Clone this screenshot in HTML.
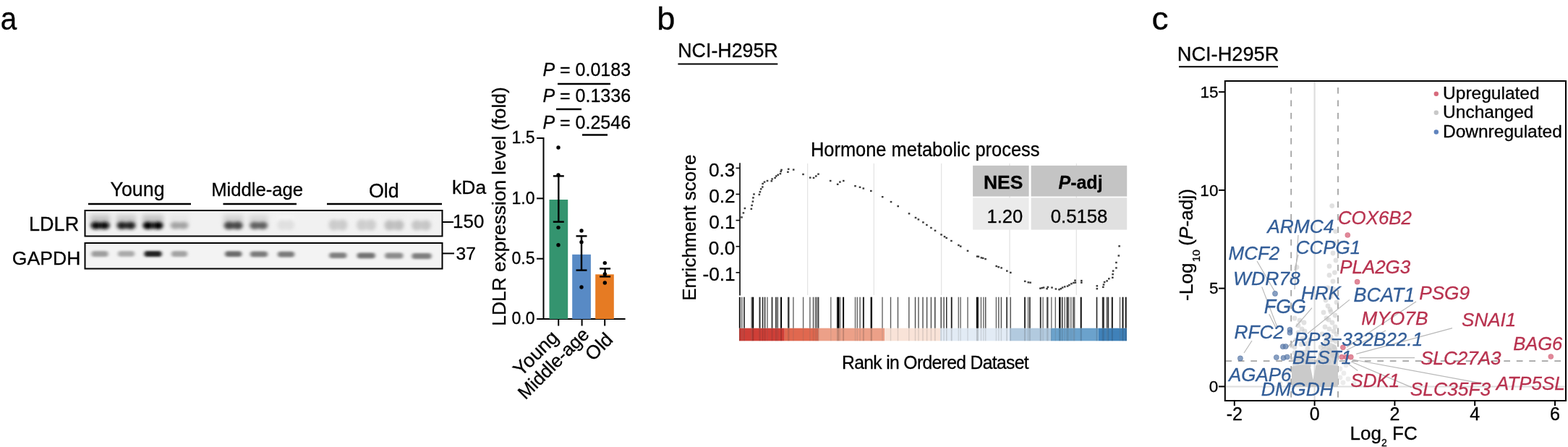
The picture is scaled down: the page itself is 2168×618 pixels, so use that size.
<!DOCTYPE html>
<html><head><meta charset="utf-8"><title>Figure</title>
<style>html,body{margin:0;padding:0;background:#fff;overflow:hidden;}svg{display:block;}</style></head>
<body><svg width="2168" height="618" viewBox="0 0 2168 618" font-family="'Liberation Sans', Arial, Helvetica, sans-serif">
<rect width="2168" height="618" fill="#fff"/>
<text transform="translate(0.68,41.20) scale(0.93,1)" font-size="43.50" fill="#000" stroke="#000" stroke-width="0.3">a</text>
<text transform="translate(152.50,270.60)" font-size="26.84" fill="#000" stroke="#000" stroke-width="0.3">Young</text>
<text transform="translate(292.18,270.60)" font-size="25.67" fill="#000" stroke="#000" stroke-width="0.3">Middle-age</text>
<text transform="translate(509.92,272.80)" font-size="26.85" fill="#000" stroke="#000" stroke-width="0.3">Old</text>
<text transform="translate(625.11,267.50)" font-size="26.45" fill="#000" stroke="#000" stroke-width="0.3">kDa</text>
<line x1="122.00" y1="282.00" x2="264.00" y2="282.00" stroke="#000" stroke-width="2.6"/>
<line x1="308.50" y1="282.00" x2="410.00" y2="282.00" stroke="#000" stroke-width="2.6"/>
<line x1="452.00" y1="282.00" x2="611.00" y2="282.00" stroke="#000" stroke-width="2.6"/>
<defs>
<filter id="bl" x="-50%" y="-100%" width="200%" height="300%"><feGaussianBlur stdDeviation="2.4 2.0"/></filter>
<filter id="bl2" x="-50%" y="-100%" width="200%" height="300%"><feGaussianBlur stdDeviation="2.0 1.5"/></filter>
<filter id="bl3" x="-50%" y="-100%" width="200%" height="300%"><feGaussianBlur stdDeviation="3 3"/></filter>
<clipPath id="cb1"><rect x="118.5" y="292" width="492" height="33.5"/></clipPath>
<clipPath id="cb2"><rect x="118.5" y="337" width="492" height="33.5"/></clipPath>
</defs>
<rect x="117.50" y="291.00" width="494.00" height="35.50" fill="#f1f1f1"/>
<rect x="117.50" y="336.00" width="494.00" height="35.50" fill="#f3f3f3"/>
<g clip-path="url(#cb1)">
<rect x="125.0" y="297" width="27" height="12" fill="rgb(187,187,187)" filter="url(#bl3)" opacity="0.8"/>
<g filter="url(#bl)"><rect x="127.0" y="307.1" width="23" height="9.5" rx="4.5" fill="rgb(52,52,52)"/><ellipse cx="132.0" cy="311.8" rx="6.5" ry="5.2" fill="rgb(7,7,7)"/><ellipse cx="145.0" cy="311.8" rx="6.5" ry="5.2" fill="rgb(7,7,7)"/></g>
<rect x="161.0" y="297" width="27" height="12" fill="rgb(194,194,194)" filter="url(#bl3)" opacity="0.8"/>
<g filter="url(#bl)"><rect x="163.0" y="307.1" width="23" height="9.5" rx="4.5" fill="rgb(75,75,75)"/><ellipse cx="168.0" cy="311.8" rx="6.5" ry="5.2" fill="rgb(35,35,35)"/><ellipse cx="181.0" cy="311.8" rx="6.5" ry="5.2" fill="rgb(35,35,35)"/></g>
<rect x="197.0" y="297" width="29" height="12" fill="rgb(186,186,186)" filter="url(#bl3)" opacity="0.8"/>
<g filter="url(#bl)"><rect x="199.0" y="307.1" width="25" height="9.5" rx="4.5" fill="rgb(50,50,50)"/><ellipse cx="204.0" cy="311.8" rx="6.5" ry="5.2" fill="rgb(5,5,5)"/><ellipse cx="219.0" cy="311.8" rx="6.5" ry="5.2" fill="rgb(5,5,5)"/></g>
<rect x="235.0" y="297" width="26" height="12" fill="rgb(229,229,229)" filter="url(#bl3)" opacity="0.8"/>
<g filter="url(#bl)"><rect x="237.0" y="307.3" width="22" height="9" rx="4.5" fill="rgb(179,179,179)"/><ellipse cx="242.0" cy="311.8" rx="6.5" ry="5.0" fill="rgb(163,163,163)"/><ellipse cx="254.0" cy="311.8" rx="6.5" ry="5.0" fill="rgb(163,163,163)"/></g>
<rect x="309.2" y="297" width="27" height="12" fill="rgb(204,204,204)" filter="url(#bl3)" opacity="0.8"/>
<g filter="url(#bl)"><rect x="311.2" y="306.8" width="23" height="10" rx="4.5" fill="rgb(104,104,104)"/><ellipse cx="316.2" cy="311.8" rx="6.5" ry="5.5" fill="rgb(71,71,71)"/><ellipse cx="329.2" cy="311.8" rx="6.5" ry="5.5" fill="rgb(71,71,71)"/></g>
<rect x="344.7" y="297" width="26" height="12" fill="rgb(211,211,211)" filter="url(#bl3)" opacity="0.8"/>
<g filter="url(#bl)"><rect x="346.7" y="307.1" width="22" height="9.5" rx="4.5" fill="rgb(125,125,125)"/><ellipse cx="351.7" cy="311.8" rx="6.5" ry="5.2" fill="rgb(96,96,96)"/><ellipse cx="363.7" cy="311.8" rx="6.5" ry="5.2" fill="rgb(96,96,96)"/></g>
<rect x="382.7" y="297" width="25" height="12" fill="rgb(246,246,246)" filter="url(#bl3)" opacity="0.8"/>
<g filter="url(#bl)"><rect x="384.7" y="304.5" width="21" height="13" rx="4.5" fill="rgb(229,229,229)"/><ellipse cx="389.7" cy="311" rx="6.5" ry="7.2" fill="rgb(224,224,224)"/><ellipse cx="400.7" cy="311" rx="6.5" ry="7.2" fill="rgb(224,224,224)"/></g>
<rect x="454.0" y="297" width="27" height="12" fill="rgb(241,241,241)" filter="url(#bl3)" opacity="0.8"/>
<g filter="url(#bl)"><rect x="456.0" y="304.0" width="23" height="14" rx="4.5" fill="rgb(213,213,213)"/><ellipse cx="461.0" cy="311" rx="6.5" ry="7.7" fill="rgb(204,204,204)"/><ellipse cx="474.0" cy="311" rx="6.5" ry="7.7" fill="rgb(204,204,204)"/></g>
<rect x="492.5" y="297" width="28" height="12" fill="rgb(241,241,241)" filter="url(#bl3)" opacity="0.8"/>
<g filter="url(#bl)"><rect x="494.5" y="304.0" width="24" height="14" rx="4.5" fill="rgb(215,215,215)"/><ellipse cx="499.5" cy="311" rx="6.5" ry="7.7" fill="rgb(206,206,206)"/><ellipse cx="513.5" cy="311" rx="6.5" ry="7.7" fill="rgb(206,206,206)"/></g>
<rect x="531.0" y="297" width="28" height="12" fill="rgb(237,237,237)" filter="url(#bl3)" opacity="0.8"/>
<g filter="url(#bl)"><rect x="533.0" y="305.0" width="24" height="13" rx="4.5" fill="rgb(202,202,202)"/><ellipse cx="538.0" cy="311.5" rx="6.5" ry="7.2" fill="rgb(191,191,191)"/><ellipse cx="552.0" cy="311.5" rx="6.5" ry="7.2" fill="rgb(191,191,191)"/></g>
<rect x="568.5" y="297" width="28" height="12" fill="rgb(239,239,239)" filter="url(#bl3)" opacity="0.8"/>
<g filter="url(#bl)"><rect x="570.5" y="305.0" width="24" height="13" rx="4.5" fill="rgb(208,208,208)"/><ellipse cx="575.5" cy="311.5" rx="6.5" ry="7.2" fill="rgb(198,198,198)"/><ellipse cx="589.5" cy="311.5" rx="6.5" ry="7.2" fill="rgb(198,198,198)"/></g>
</g>
<g clip-path="url(#cb2)">
<rect x="126.5" y="347.1" width="23" height="7.8" rx="3.5" fill="rgb(158,158,158)" filter="url(#bl2)"/>
<rect x="163.0" y="346.9" width="23" height="7.8" rx="3.5" fill="rgb(170,170,170)" filter="url(#bl2)"/>
<rect x="199.5" y="347.1" width="24" height="7.8" rx="3.5" fill="rgb(35,35,35)" filter="url(#bl2)"/>
<rect x="237.0" y="347.1" width="22" height="7.8" rx="3.5" fill="rgb(163,163,163)" filter="url(#bl2)"/>
<rect x="311.2" y="347.3" width="23" height="7.8" rx="3.5" fill="rgb(107,107,107)" filter="url(#bl2)"/>
<rect x="346.0" y="347.5" width="24" height="7.8" rx="3.5" fill="rgb(122,122,122)" filter="url(#bl2)"/>
<rect x="384.0" y="347.7" width="23" height="7.8" rx="3.5" fill="rgb(122,122,122)" filter="url(#bl2)"/>
<rect x="455.3" y="349.3" width="24" height="7.8" rx="3.5" fill="rgb(127,127,127)" filter="url(#bl2)"/>
<rect x="493.7" y="349.5" width="25" height="7.8" rx="3.5" fill="rgb(114,114,114)" filter="url(#bl2)"/>
<rect x="532.3" y="349.6" width="25" height="7.8" rx="3.5" fill="rgb(140,140,140)" filter="url(#bl2)"/>
<rect x="569.5" y="350.1" width="27" height="7.8" rx="3.5" fill="rgb(127,127,127)" filter="url(#bl2)"/>
</g>
<rect x="117.5" y="291" width="494" height="35.5" fill="none" stroke="#000" stroke-width="2"/>
<rect x="117.5" y="336" width="494" height="35.5" fill="none" stroke="#000" stroke-width="2"/>
<text transform="translate(40.07,319.10)" font-size="27.02" fill="#000" stroke="#000" stroke-width="0.3">LDLR</text>
<text transform="translate(16.87,366.30)" font-size="26.60" fill="#000" stroke="#000" stroke-width="0.3">GAPDH</text>
<line x1="611.50" y1="307.00" x2="627.00" y2="307.00" stroke="#000" stroke-width="2"/>
<text transform="translate(626.06,314.90)" font-size="25.92" fill="#000" stroke="#000" stroke-width="0.3">150</text>
<line x1="611.50" y1="350.40" x2="628.00" y2="350.40" stroke="#000" stroke-width="2"/>
<text transform="translate(630.58,358.70)" font-size="24.55" fill="#000" stroke="#000" stroke-width="0.3">37</text>
<line x1="751.50" y1="190.00" x2="751.50" y2="442.00" stroke="#000" stroke-width="2"/>
<line x1="750.50" y1="441.00" x2="864.60" y2="441.00" stroke="#000" stroke-width="2"/>
<line x1="742.00" y1="191.00" x2="751.50" y2="191.00" stroke="#000" stroke-width="2"/>
<text transform="translate(707.55,198.40)" font-size="23.00" fill="#000" stroke="#000" stroke-width="0.3">1.5</text>
<line x1="742.00" y1="274.33" x2="751.50" y2="274.33" stroke="#000" stroke-width="2"/>
<text transform="translate(707.49,281.73)" font-size="23.00" fill="#000" stroke="#000" stroke-width="0.3">1.0</text>
<line x1="742.00" y1="357.67" x2="751.50" y2="357.67" stroke="#000" stroke-width="2"/>
<text transform="translate(707.55,365.07)" font-size="23.00" fill="#000" stroke="#000" stroke-width="0.3">0.5</text>
<line x1="742.00" y1="441.00" x2="751.50" y2="441.00" stroke="#000" stroke-width="2"/>
<text transform="translate(707.49,448.40)" font-size="23.00" fill="#000" stroke="#000" stroke-width="0.3">0.0</text>
<rect x="759.50" y="276.00" width="25.70" height="165.00" fill="#34946f"/>
<rect x="791.20" y="351.83" width="25.70" height="89.17" fill="#588ac5"/>
<rect x="823.20" y="379.33" width="25.60" height="61.67" fill="#e67b23"/>
<line x1="772.30" y1="243.40" x2="772.30" y2="306.70" stroke="#000" stroke-width="2.4"/>
<line x1="764.80" y1="243.40" x2="779.80" y2="243.40" stroke="#000" stroke-width="2.4"/>
<line x1="764.80" y1="306.70" x2="779.80" y2="306.70" stroke="#000" stroke-width="2.4"/>
<line x1="804.00" y1="326.40" x2="804.00" y2="373.60" stroke="#000" stroke-width="2.4"/>
<line x1="796.50" y1="326.40" x2="811.50" y2="326.40" stroke="#000" stroke-width="2.4"/>
<line x1="796.50" y1="373.60" x2="811.50" y2="373.60" stroke="#000" stroke-width="2.4"/>
<line x1="836.60" y1="371.40" x2="836.60" y2="382.40" stroke="#000" stroke-width="2.4"/>
<line x1="829.10" y1="371.40" x2="844.10" y2="371.40" stroke="#000" stroke-width="2.4"/>
<line x1="829.10" y1="382.40" x2="844.10" y2="382.40" stroke="#000" stroke-width="2.4"/>
<circle cx="772.00" cy="204.00" r="2.7" fill="#000"/>
<circle cx="772.00" cy="242.00" r="2.7" fill="#000"/>
<circle cx="772.00" cy="314.60" r="2.7" fill="#000"/>
<circle cx="772.00" cy="338.70" r="2.7" fill="#000"/>
<circle cx="804.00" cy="319.00" r="2.7" fill="#000"/>
<circle cx="804.00" cy="334.70" r="2.7" fill="#000"/>
<circle cx="804.00" cy="397.00" r="2.7" fill="#000"/>
<circle cx="836.30" cy="363.60" r="2.7" fill="#000"/>
<circle cx="836.30" cy="378.90" r="2.7" fill="#000"/>
<circle cx="836.30" cy="391.00" r="2.7" fill="#000"/>
<line x1="772.20" y1="441.00" x2="772.20" y2="450.50" stroke="#000" stroke-width="2"/>
<line x1="804.60" y1="441.00" x2="804.60" y2="450.50" stroke="#000" stroke-width="2"/>
<line x1="836.20" y1="441.00" x2="836.20" y2="450.50" stroke="#000" stroke-width="2"/>
<text stroke="#000" stroke-width="0.3" transform="translate(774,468) rotate(-45)" text-anchor="end" font-size="27">Young</text>
<text stroke="#000" stroke-width="0.3" transform="translate(816,464) rotate(-45)" text-anchor="end" font-size="25.6">Middle-age</text>
<text stroke="#000" stroke-width="0.3" transform="translate(849,471) rotate(-45)" text-anchor="end" font-size="26.5">Old</text>
<text stroke="#000" stroke-width="0.3" transform="translate(698.5,285.5) rotate(-90)" text-anchor="middle" font-size="26.3">LDLR expression level (fold)</text>
<text stroke="#000" stroke-width="0.3" x="750.4" y="104.7" font-size="25"><tspan font-style="italic">P</tspan> = 0.0183</text>
<text stroke="#000" stroke-width="0.3" x="750.4" y="140.7" font-size="25"><tspan font-style="italic">P</tspan> = 0.1336</text>
<text stroke="#000" stroke-width="0.3" x="750.4" y="178.2" font-size="25"><tspan font-style="italic">P</tspan> = 0.2546</text>
<line x1="771.00" y1="116.00" x2="844.00" y2="116.00" stroke="#000" stroke-width="2.6"/>
<line x1="769.00" y1="151.00" x2="804.00" y2="151.00" stroke="#000" stroke-width="2.6"/>
<line x1="805.00" y1="186.50" x2="840.00" y2="186.50" stroke="#000" stroke-width="2.6"/>
<text transform="translate(908.36,40.90) scale(1.04,1)" font-size="43.50" fill="#000" stroke="#000" stroke-width="0.3">b</text>
<text transform="translate(937.29,79.20)" font-size="26.78" fill="#000" stroke="#000" stroke-width="0.3">NCI-H295R</text>
<line x1="937.40" y1="88.40" x2="1075.30" y2="88.40" stroke="#000" stroke-width="2"/>
<text transform="translate(1120.90,216.20) scale(0.932,1)" font-size="27.30" fill="#000" stroke="#000" stroke-width="0.3">Hormone metabolic process</text>
<line x1="1116.60" y1="226.00" x2="1116.60" y2="408.00" stroke="#e4e4e4" stroke-width="1.3"/>
<line x1="1208.30" y1="226.00" x2="1208.30" y2="408.00" stroke="#e4e4e4" stroke-width="1.3"/>
<line x1="1301.60" y1="226.00" x2="1301.60" y2="408.00" stroke="#e4e4e4" stroke-width="1.3"/>
<line x1="1396.00" y1="226.00" x2="1396.00" y2="408.00" stroke="#e4e4e4" stroke-width="1.3"/>
<line x1="1488.30" y1="226.00" x2="1488.30" y2="408.00" stroke="#e4e4e4" stroke-width="1.3"/>
<rect x="1345.10" y="228.90" width="77.50" height="42.70" fill="#c4c4c4"/>
<rect x="1425.60" y="228.90" width="132.60" height="42.70" fill="#c4c4c4"/>
<rect x="1345.10" y="273.40" width="77.50" height="44.20" fill="#ebebeb"/>
<rect x="1425.60" y="273.40" width="132.60" height="44.20" fill="#e0e0e0"/>
<text transform="translate(1359.91,260.60)" font-size="26.46" font-weight="bold" fill="#000" stroke="#000" stroke-width="0.3">NES</text>
<text stroke="#000" stroke-width="0.3" x="1463.46" y="260.6" font-size="25" font-weight="bold"><tspan font-style="italic">P</tspan>-adj</text>
<text transform="translate(1364.58,307.60)" font-size="25.54" fill="#000" stroke="#000" stroke-width="0.3">1.20</text>
<text transform="translate(1452.67,307.60)" font-size="25.75" fill="#000" stroke="#000" stroke-width="0.3">0.5158</text>
<line x1="1023.00" y1="225.30" x2="1023.00" y2="408.50" stroke="#000" stroke-width="1.6"/>
<line x1="1017.50" y1="232.40" x2="1023.00" y2="232.40" stroke="#000" stroke-width="1.6"/>
<text transform="translate(980.00,243.60)" font-size="26.20" fill="#000" stroke="#000" stroke-width="0.3">0.3</text>
<line x1="1017.50" y1="268.50" x2="1023.00" y2="268.50" stroke="#000" stroke-width="1.6"/>
<text transform="translate(980.19,279.70)" font-size="26.20" fill="#000" stroke="#000" stroke-width="0.3">0.2</text>
<line x1="1017.50" y1="304.60" x2="1023.00" y2="304.60" stroke="#000" stroke-width="1.6"/>
<text transform="translate(980.13,315.80)" font-size="26.20" fill="#000" stroke="#000" stroke-width="0.3">0.1</text>
<line x1="1017.50" y1="340.70" x2="1023.00" y2="340.70" stroke="#000" stroke-width="1.6"/>
<text transform="translate(979.86,351.90)" font-size="26.20" fill="#000" stroke="#000" stroke-width="0.3">0.0</text>
<line x1="1017.50" y1="376.80" x2="1023.00" y2="376.80" stroke="#000" stroke-width="1.6"/>
<text transform="translate(971.41,388.00)" font-size="26.20" fill="#000" stroke="#000" stroke-width="0.3">-0.1</text>
<text stroke="#000" stroke-width="0.3" transform="translate(962,314.7) rotate(-90)" text-anchor="middle" font-size="26">Enrichment score</text>
<g fill="#3c3c3c">
<rect x="1024.2" y="299.2" width="2.6" height="2.4"/>
<rect x="1026.6" y="293.2" width="2.6" height="2.4"/>
<rect x="1028.6" y="286.8" width="2.6" height="2.4"/>
<rect x="1037.5" y="287.6" width="2.6" height="2.4"/>
<rect x="1038.3" y="282.7" width="2.6" height="2.4"/>
<rect x="1039.6" y="277.4" width="2.6" height="2.4"/>
<rect x="1040.1" y="272.2" width="2.6" height="2.4"/>
<rect x="1041.2" y="267.3" width="2.6" height="2.4"/>
<rect x="1048.5" y="267.8" width="2.6" height="2.4"/>
<rect x="1049.6" y="264.1" width="2.6" height="2.4"/>
<rect x="1050.9" y="260.1" width="2.6" height="2.4"/>
<rect x="1053.0" y="257.3" width="2.6" height="2.4"/>
<rect x="1053.3" y="252.8" width="2.6" height="2.4"/>
<rect x="1055.7" y="250.4" width="2.6" height="2.4"/>
<rect x="1059.7" y="248.8" width="2.6" height="2.4"/>
<rect x="1065.5" y="249.1" width="2.6" height="2.4"/>
<rect x="1066.3" y="246.3" width="2.6" height="2.4"/>
<rect x="1070.3" y="244.7" width="2.6" height="2.4"/>
<rect x="1072.0" y="242.3" width="2.6" height="2.4"/>
<rect x="1074.4" y="240.6" width="2.6" height="2.4"/>
<rect x="1077.6" y="239.0" width="2.6" height="2.4"/>
<rect x="1078.4" y="235.8" width="2.6" height="2.4"/>
<rect x="1079.2" y="233.7" width="2.6" height="2.4"/>
<rect x="1088.1" y="236.6" width="2.6" height="2.4"/>
<rect x="1088.9" y="232.6" width="2.6" height="2.4"/>
<rect x="1095.9" y="233.4" width="2.6" height="2.4"/>
<rect x="1109.2" y="239.8" width="2.6" height="2.4"/>
<rect x="1118.9" y="244.4" width="2.6" height="2.4"/>
<rect x="1123.7" y="244.7" width="2.6" height="2.4"/>
<rect x="1127.0" y="242.3" width="2.6" height="2.4"/>
<rect x="1130.2" y="239.5" width="2.6" height="2.4"/>
<rect x="1146.9" y="248.8" width="2.6" height="2.4"/>
<rect x="1156.9" y="253.6" width="2.6" height="2.4"/>
<rect x="1160.1" y="250.4" width="2.6" height="2.4"/>
<rect x="1165.0" y="248.8" width="2.6" height="2.4"/>
<rect x="1181.2" y="256.0" width="2.6" height="2.4"/>
<rect x="1187.7" y="257.6" width="2.6" height="2.4"/>
<rect x="1192.5" y="259.3" width="2.6" height="2.4"/>
<rect x="1203.0" y="262.8" width="2.6" height="2.4"/>
<rect x="1218.9" y="271.0" width="2.6" height="2.4"/>
<rect x="1230.7" y="277.9" width="2.6" height="2.4"/>
<rect x="1240.4" y="283.9" width="2.6" height="2.4"/>
<rect x="1255.7" y="294.1" width="2.6" height="2.4"/>
<rect x="1264.7" y="299.8" width="2.6" height="2.4"/>
<rect x="1268.6" y="302.2" width="2.6" height="2.4"/>
<rect x="1275.1" y="306.2" width="2.6" height="2.4"/>
<rect x="1280.1" y="309.8" width="2.6" height="2.4"/>
<rect x="1286.1" y="313.8" width="2.6" height="2.4"/>
<rect x="1291.7" y="317.6" width="2.6" height="2.4"/>
<rect x="1300.2" y="323.2" width="2.6" height="2.4"/>
<rect x="1304.7" y="326.0" width="2.6" height="2.4"/>
<rect x="1307.4" y="327.8" width="2.6" height="2.4"/>
<rect x="1314.1" y="331.8" width="2.6" height="2.4"/>
<rect x="1324.1" y="337.8" width="2.6" height="2.4"/>
<rect x="1326.9" y="339.4" width="2.6" height="2.4"/>
<rect x="1336.7" y="345.6" width="2.6" height="2.4"/>
<rect x="1349.8" y="353.4" width="2.6" height="2.4"/>
<rect x="1351.5" y="353.5" width="2.6" height="2.4"/>
<rect x="1355.6" y="355.2" width="2.6" height="2.4"/>
<rect x="1357.9" y="355.7" width="2.6" height="2.4"/>
<rect x="1361.3" y="356.9" width="2.6" height="2.4"/>
<rect x="1376.4" y="366.8" width="2.6" height="2.4"/>
<rect x="1379.4" y="368.0" width="2.6" height="2.4"/>
<rect x="1383.3" y="369.2" width="2.6" height="2.4"/>
<rect x="1391.0" y="373.4" width="2.6" height="2.4"/>
<rect x="1396.0" y="375.7" width="2.6" height="2.4"/>
<rect x="1415.9" y="387.7" width="2.6" height="2.4"/>
<rect x="1420.5" y="389.2" width="2.6" height="2.4"/>
<rect x="1423.3" y="389.5" width="2.6" height="2.4"/>
<rect x="1437.1" y="397.5" width="2.6" height="2.4"/>
<rect x="1439.4" y="396.9" width="2.6" height="2.4"/>
<rect x="1441.7" y="396.4" width="2.6" height="2.4"/>
<rect x="1446.3" y="398.0" width="2.6" height="2.4"/>
<rect x="1447.5" y="395.7" width="2.6" height="2.4"/>
<rect x="1453.2" y="396.4" width="2.6" height="2.4"/>
<rect x="1458.6" y="398.3" width="2.6" height="2.4"/>
<rect x="1463.2" y="399.1" width="2.6" height="2.4"/>
<rect x="1465.5" y="398.0" width="2.6" height="2.4"/>
<rect x="1467.8" y="396.4" width="2.6" height="2.4"/>
<rect x="1470.9" y="395.2" width="2.6" height="2.4"/>
<rect x="1474.8" y="394.4" width="2.6" height="2.4"/>
<rect x="1477.1" y="392.9" width="2.6" height="2.4"/>
<rect x="1480.1" y="391.1" width="2.6" height="2.4"/>
<rect x="1483.2" y="389.8" width="2.6" height="2.4"/>
<rect x="1485.2" y="386.5" width="2.6" height="2.4"/>
<rect x="1485.5" y="389.5" width="2.6" height="2.4"/>
<rect x="1494.0" y="386.9" width="2.6" height="2.4"/>
<rect x="1494.0" y="389.5" width="2.6" height="2.4"/>
<rect x="1515.5" y="394.1" width="2.6" height="2.4"/>
<rect x="1515.5" y="398.0" width="2.6" height="2.4"/>
<rect x="1524.0" y="395.7" width="2.6" height="2.4"/>
<rect x="1524.7" y="392.3" width="2.6" height="2.4"/>
<rect x="1525.8" y="388.8" width="2.6" height="2.4"/>
<rect x="1529.3" y="387.2" width="2.6" height="2.4"/>
<rect x="1532.0" y="384.1" width="2.6" height="2.4"/>
<rect x="1537.0" y="382.6" width="2.6" height="2.4"/>
<rect x="1537.3" y="378.0" width="2.6" height="2.4"/>
<rect x="1537.8" y="373.4" width="2.6" height="2.4"/>
<rect x="1542.1" y="369.2" width="2.6" height="2.4"/>
<rect x="1542.1" y="361.8" width="2.6" height="2.4"/>
<rect x="1545.5" y="352.3" width="2.6" height="2.4"/>
<rect x="1546.3" y="339.1" width="2.6" height="2.4"/>
</g>
<rect x="1022.00" y="453.70" width="62.80" height="17.60" fill="#cf3f37"/>
<rect x="1084.80" y="453.70" width="47.00" height="17.60" fill="#e0684f"/>
<rect x="1131.80" y="453.70" width="91.20" height="17.60" fill="#eca088"/>
<rect x="1223.00" y="453.70" width="77.00" height="17.60" fill="#f9e3d8"/>
<rect x="1300.00" y="453.70" width="96.00" height="17.60" fill="#e2ebf5"/>
<rect x="1396.00" y="453.70" width="57.00" height="17.60" fill="#b2cadf"/>
<rect x="1453.00" y="453.70" width="65.80" height="17.60" fill="#6ba2cc"/>
<rect x="1518.80" y="453.70" width="39.20" height="17.60" fill="#3f81b9"/>
<rect x="1021.8" y="410.7" width="2" height="43" fill="rgb(25,25,25)"/>
<rect x="1021.8" y="453.7" width="2" height="17.6" fill="rgb(25,25,25)" opacity="0.18"/>
<rect x="1025.0" y="410.7" width="1.5" height="43" fill="rgb(102,102,102)"/>
<rect x="1025.0" y="453.7" width="1.5" height="17.6" fill="rgb(102,102,102)" opacity="0.18"/>
<rect x="1028.0" y="410.7" width="2" height="43" fill="rgb(76,76,76)"/>
<rect x="1028.0" y="453.7" width="2" height="17.6" fill="rgb(76,76,76)" opacity="0.18"/>
<rect x="1038.5" y="410.7" width="2" height="43" fill="rgb(102,102,102)"/>
<rect x="1038.5" y="453.7" width="2" height="17.6" fill="rgb(102,102,102)" opacity="0.18"/>
<rect x="1040.2" y="410.7" width="2" height="43" fill="rgb(0,0,0)"/>
<rect x="1040.2" y="453.7" width="2" height="17.6" fill="rgb(0,0,0)" opacity="0.18"/>
<rect x="1049.5" y="410.7" width="2" height="43" fill="rgb(50,50,50)"/>
<rect x="1049.5" y="453.7" width="2" height="17.6" fill="rgb(50,50,50)" opacity="0.18"/>
<rect x="1053.8" y="410.7" width="1.6" height="43" fill="rgb(38,38,38)"/>
<rect x="1053.8" y="453.7" width="1.6" height="17.6" fill="rgb(38,38,38)" opacity="0.18"/>
<rect x="1056.9" y="410.7" width="1.4" height="43" fill="rgb(38,38,38)"/>
<rect x="1056.9" y="453.7" width="1.4" height="17.6" fill="rgb(38,38,38)" opacity="0.18"/>
<rect x="1060.3" y="410.7" width="1.4" height="43" fill="rgb(102,102,102)"/>
<rect x="1060.3" y="453.7" width="1.4" height="17.6" fill="rgb(102,102,102)" opacity="0.18"/>
<rect x="1066.6" y="410.7" width="1.8" height="43" fill="rgb(50,50,50)"/>
<rect x="1066.6" y="453.7" width="1.8" height="17.6" fill="rgb(50,50,50)" opacity="0.18"/>
<rect x="1072.0" y="410.7" width="1.8" height="43" fill="rgb(63,63,63)"/>
<rect x="1072.0" y="453.7" width="1.8" height="17.6" fill="rgb(63,63,63)" opacity="0.18"/>
<rect x="1074.5" y="410.7" width="1.5" height="43" fill="rgb(76,76,76)"/>
<rect x="1074.5" y="453.7" width="1.5" height="17.6" fill="rgb(76,76,76)" opacity="0.18"/>
<rect x="1079.1" y="410.7" width="2" height="43" fill="rgb(0,0,0)"/>
<rect x="1079.1" y="453.7" width="2" height="17.6" fill="rgb(0,0,0)" opacity="0.18"/>
<rect x="1089.0" y="410.7" width="2.5" height="43" fill="rgb(63,63,63)"/>
<rect x="1089.0" y="453.7" width="2.5" height="17.6" fill="rgb(63,63,63)" opacity="0.18"/>
<rect x="1096.2" y="410.7" width="1.4" height="43" fill="rgb(102,102,102)"/>
<rect x="1096.2" y="453.7" width="1.4" height="17.6" fill="rgb(102,102,102)" opacity="0.18"/>
<rect x="1109.9" y="410.7" width="1.4" height="43" fill="rgb(102,102,102)"/>
<rect x="1109.9" y="453.7" width="1.4" height="17.6" fill="rgb(102,102,102)" opacity="0.18"/>
<rect x="1119.2" y="410.7" width="1.4" height="43" fill="rgb(102,102,102)"/>
<rect x="1119.2" y="453.7" width="1.4" height="17.6" fill="rgb(102,102,102)" opacity="0.18"/>
<rect x="1123.8" y="410.7" width="1.4" height="43" fill="rgb(76,76,76)"/>
<rect x="1123.8" y="453.7" width="1.4" height="17.6" fill="rgb(76,76,76)" opacity="0.18"/>
<rect x="1126.7" y="410.7" width="1.8" height="43" fill="rgb(102,102,102)"/>
<rect x="1126.7" y="453.7" width="1.8" height="17.6" fill="rgb(102,102,102)" opacity="0.18"/>
<rect x="1128.8" y="410.7" width="1.5" height="43" fill="rgb(102,102,102)"/>
<rect x="1128.8" y="453.7" width="1.5" height="17.6" fill="rgb(102,102,102)" opacity="0.18"/>
<rect x="1130.8" y="410.7" width="1.6" height="43" fill="rgb(50,50,50)"/>
<rect x="1130.8" y="453.7" width="1.6" height="17.6" fill="rgb(50,50,50)" opacity="0.18"/>
<rect x="1148.1" y="410.7" width="1.4" height="43" fill="rgb(114,114,114)"/>
<rect x="1148.1" y="453.7" width="1.4" height="17.6" fill="rgb(114,114,114)" opacity="0.18"/>
<rect x="1156.8" y="410.7" width="1.4" height="43" fill="rgb(114,114,114)"/>
<rect x="1156.8" y="453.7" width="1.4" height="17.6" fill="rgb(114,114,114)" opacity="0.18"/>
<rect x="1157.6" y="410.7" width="3" height="43" fill="rgb(0,0,0)"/>
<rect x="1157.6" y="453.7" width="3" height="17.6" fill="rgb(0,0,0)" opacity="0.18"/>
<rect x="1161.2" y="410.7" width="1.4" height="43" fill="rgb(127,127,127)"/>
<rect x="1161.2" y="453.7" width="1.4" height="17.6" fill="rgb(127,127,127)" opacity="0.18"/>
<rect x="1165.1" y="410.7" width="2" height="43" fill="rgb(12,12,12)"/>
<rect x="1165.1" y="453.7" width="2" height="17.6" fill="rgb(12,12,12)" opacity="0.18"/>
<rect x="1181.8" y="410.7" width="1.4" height="43" fill="rgb(102,102,102)"/>
<rect x="1181.8" y="453.7" width="1.4" height="17.6" fill="rgb(102,102,102)" opacity="0.18"/>
<rect x="1184.6" y="410.7" width="1.4" height="43" fill="rgb(102,102,102)"/>
<rect x="1184.6" y="453.7" width="1.4" height="17.6" fill="rgb(102,102,102)" opacity="0.18"/>
<rect x="1188.4" y="410.7" width="1.4" height="43" fill="rgb(89,89,89)"/>
<rect x="1188.4" y="453.7" width="1.4" height="17.6" fill="rgb(89,89,89)" opacity="0.18"/>
<rect x="1192.9" y="410.7" width="2" height="43" fill="rgb(38,38,38)"/>
<rect x="1192.9" y="453.7" width="2" height="17.6" fill="rgb(38,38,38)" opacity="0.18"/>
<rect x="1203.6" y="410.7" width="2.4" height="43" fill="rgb(0,0,0)"/>
<rect x="1203.6" y="453.7" width="2.4" height="17.6" fill="rgb(0,0,0)" opacity="0.18"/>
<rect x="1219.3" y="410.7" width="1.4" height="43" fill="rgb(102,102,102)"/>
<rect x="1219.3" y="453.7" width="1.4" height="17.6" fill="rgb(102,102,102)" opacity="0.18"/>
<rect x="1230.8" y="410.7" width="1.4" height="43" fill="rgb(89,89,89)"/>
<rect x="1230.8" y="453.7" width="1.4" height="17.6" fill="rgb(89,89,89)" opacity="0.18"/>
<rect x="1240.8" y="410.7" width="1.4" height="43" fill="rgb(89,89,89)"/>
<rect x="1240.8" y="453.7" width="1.4" height="17.6" fill="rgb(89,89,89)" opacity="0.18"/>
<rect x="1256.1" y="410.7" width="1.4" height="43" fill="rgb(89,89,89)"/>
<rect x="1256.1" y="453.7" width="1.4" height="17.6" fill="rgb(89,89,89)" opacity="0.18"/>
<rect x="1264.8" y="410.7" width="1.4" height="43" fill="rgb(76,76,76)"/>
<rect x="1264.8" y="453.7" width="1.4" height="17.6" fill="rgb(76,76,76)" opacity="0.18"/>
<rect x="1269.3" y="410.7" width="1.4" height="43" fill="rgb(89,89,89)"/>
<rect x="1269.3" y="453.7" width="1.4" height="17.6" fill="rgb(89,89,89)" opacity="0.18"/>
<rect x="1275.3" y="410.7" width="1.4" height="43" fill="rgb(76,76,76)"/>
<rect x="1275.3" y="453.7" width="1.4" height="17.6" fill="rgb(76,76,76)" opacity="0.18"/>
<rect x="1280.9" y="410.7" width="1.4" height="43" fill="rgb(76,76,76)"/>
<rect x="1280.9" y="453.7" width="1.4" height="17.6" fill="rgb(76,76,76)" opacity="0.18"/>
<rect x="1286.7" y="410.7" width="1.4" height="43" fill="rgb(76,76,76)"/>
<rect x="1286.7" y="453.7" width="1.4" height="17.6" fill="rgb(76,76,76)" opacity="0.18"/>
<rect x="1292.1" y="410.7" width="1.4" height="43" fill="rgb(50,50,50)"/>
<rect x="1292.1" y="453.7" width="1.4" height="17.6" fill="rgb(50,50,50)" opacity="0.18"/>
<rect x="1300.5" y="410.7" width="1.4" height="43" fill="rgb(63,63,63)"/>
<rect x="1300.5" y="453.7" width="1.4" height="17.6" fill="rgb(63,63,63)" opacity="0.18"/>
<rect x="1304.4" y="410.7" width="1.4" height="43" fill="rgb(76,76,76)"/>
<rect x="1304.4" y="453.7" width="1.4" height="17.6" fill="rgb(76,76,76)" opacity="0.18"/>
<rect x="1308.0" y="410.7" width="1.5" height="43" fill="rgb(50,50,50)"/>
<rect x="1308.0" y="453.7" width="1.5" height="17.6" fill="rgb(50,50,50)" opacity="0.18"/>
<rect x="1314.8" y="410.7" width="1.8" height="43" fill="rgb(25,25,25)"/>
<rect x="1314.8" y="453.7" width="1.8" height="17.6" fill="rgb(25,25,25)" opacity="0.18"/>
<rect x="1324.6" y="410.7" width="1.4" height="43" fill="rgb(102,102,102)"/>
<rect x="1324.6" y="453.7" width="1.4" height="17.6" fill="rgb(102,102,102)" opacity="0.18"/>
<rect x="1327.4" y="410.7" width="1.4" height="43" fill="rgb(102,102,102)"/>
<rect x="1327.4" y="453.7" width="1.4" height="17.6" fill="rgb(102,102,102)" opacity="0.18"/>
<rect x="1337.3" y="410.7" width="1.4" height="43" fill="rgb(102,102,102)"/>
<rect x="1337.3" y="453.7" width="1.4" height="17.6" fill="rgb(102,102,102)" opacity="0.18"/>
<rect x="1349.9" y="410.7" width="3" height="43" fill="rgb(0,0,0)"/>
<rect x="1349.9" y="453.7" width="3" height="17.6" fill="rgb(0,0,0)" opacity="0.18"/>
<rect x="1355.8" y="410.7" width="1.4" height="43" fill="rgb(102,102,102)"/>
<rect x="1355.8" y="453.7" width="1.4" height="17.6" fill="rgb(102,102,102)" opacity="0.18"/>
<rect x="1359.2" y="410.7" width="1.4" height="43" fill="rgb(102,102,102)"/>
<rect x="1359.2" y="453.7" width="1.4" height="17.6" fill="rgb(102,102,102)" opacity="0.18"/>
<rect x="1362.0" y="410.7" width="1.4" height="43" fill="rgb(76,76,76)"/>
<rect x="1362.0" y="453.7" width="1.4" height="17.6" fill="rgb(76,76,76)" opacity="0.18"/>
<rect x="1376.7" y="410.7" width="1.4" height="43" fill="rgb(102,102,102)"/>
<rect x="1376.7" y="453.7" width="1.4" height="17.6" fill="rgb(102,102,102)" opacity="0.18"/>
<rect x="1380.1" y="410.7" width="1.4" height="43" fill="rgb(89,89,89)"/>
<rect x="1380.1" y="453.7" width="1.4" height="17.6" fill="rgb(89,89,89)" opacity="0.18"/>
<rect x="1383.7" y="410.7" width="1.4" height="43" fill="rgb(76,76,76)"/>
<rect x="1383.7" y="453.7" width="1.4" height="17.6" fill="rgb(76,76,76)" opacity="0.18"/>
<rect x="1391.3" y="410.7" width="1.6" height="43" fill="rgb(38,38,38)"/>
<rect x="1391.3" y="453.7" width="1.6" height="17.6" fill="rgb(38,38,38)" opacity="0.18"/>
<rect x="1396.5" y="410.7" width="1.4" height="43" fill="rgb(76,76,76)"/>
<rect x="1396.5" y="453.7" width="1.4" height="17.6" fill="rgb(76,76,76)" opacity="0.18"/>
<rect x="1416.0" y="410.7" width="2" height="43" fill="rgb(50,50,50)"/>
<rect x="1416.0" y="453.7" width="2" height="17.6" fill="rgb(50,50,50)" opacity="0.18"/>
<rect x="1420.9" y="410.7" width="1.4" height="43" fill="rgb(102,102,102)"/>
<rect x="1420.9" y="453.7" width="1.4" height="17.6" fill="rgb(102,102,102)" opacity="0.18"/>
<rect x="1423.1" y="410.7" width="1.6" height="43" fill="rgb(38,38,38)"/>
<rect x="1423.1" y="453.7" width="1.6" height="17.6" fill="rgb(38,38,38)" opacity="0.18"/>
<rect x="1437.8" y="410.7" width="1.8" height="43" fill="rgb(38,38,38)"/>
<rect x="1437.8" y="453.7" width="1.8" height="17.6" fill="rgb(38,38,38)" opacity="0.18"/>
<rect x="1441.4" y="410.7" width="1.4" height="43" fill="rgb(114,114,114)"/>
<rect x="1441.4" y="453.7" width="1.4" height="17.6" fill="rgb(114,114,114)" opacity="0.18"/>
<rect x="1447.1" y="410.7" width="2.4" height="43" fill="rgb(76,76,76)"/>
<rect x="1447.1" y="453.7" width="2.4" height="17.6" fill="rgb(76,76,76)" opacity="0.18"/>
<rect x="1453.1" y="410.7" width="1.4" height="43" fill="rgb(114,114,114)"/>
<rect x="1453.1" y="453.7" width="1.4" height="17.6" fill="rgb(114,114,114)" opacity="0.18"/>
<rect x="1458.6" y="410.7" width="1.4" height="43" fill="rgb(102,102,102)"/>
<rect x="1458.6" y="453.7" width="1.4" height="17.6" fill="rgb(102,102,102)" opacity="0.18"/>
<rect x="1464.1" y="410.7" width="2.4" height="43" fill="rgb(0,0,0)"/>
<rect x="1464.1" y="453.7" width="2.4" height="17.6" fill="rgb(0,0,0)" opacity="0.18"/>
<rect x="1467.9" y="410.7" width="1.6" height="43" fill="rgb(50,50,50)"/>
<rect x="1467.9" y="453.7" width="1.6" height="17.6" fill="rgb(50,50,50)" opacity="0.18"/>
<rect x="1471.4" y="410.7" width="1.4" height="43" fill="rgb(102,102,102)"/>
<rect x="1471.4" y="453.7" width="1.4" height="17.6" fill="rgb(102,102,102)" opacity="0.18"/>
<rect x="1474.5" y="410.7" width="2.4" height="43" fill="rgb(63,63,63)"/>
<rect x="1474.5" y="453.7" width="2.4" height="17.6" fill="rgb(63,63,63)" opacity="0.18"/>
<rect x="1477.1" y="410.7" width="1.4" height="43" fill="rgb(102,102,102)"/>
<rect x="1477.1" y="453.7" width="1.4" height="17.6" fill="rgb(102,102,102)" opacity="0.18"/>
<rect x="1480.1" y="410.7" width="1.4" height="43" fill="rgb(102,102,102)"/>
<rect x="1480.1" y="453.7" width="1.4" height="17.6" fill="rgb(102,102,102)" opacity="0.18"/>
<rect x="1483.0" y="410.7" width="2.4" height="43" fill="rgb(114,114,114)"/>
<rect x="1483.0" y="453.7" width="2.4" height="17.6" fill="rgb(114,114,114)" opacity="0.18"/>
<rect x="1485.0" y="410.7" width="1.4" height="43" fill="rgb(102,102,102)"/>
<rect x="1485.0" y="453.7" width="1.4" height="17.6" fill="rgb(102,102,102)" opacity="0.18"/>
<rect x="1493.7" y="410.7" width="2" height="43" fill="rgb(12,12,12)"/>
<rect x="1493.7" y="453.7" width="2" height="17.6" fill="rgb(12,12,12)" opacity="0.18"/>
<rect x="1515.7" y="410.7" width="1.6" height="43" fill="rgb(38,38,38)"/>
<rect x="1515.7" y="453.7" width="1.6" height="17.6" fill="rgb(38,38,38)" opacity="0.18"/>
<rect x="1523.8" y="410.7" width="3" height="43" fill="rgb(50,50,50)"/>
<rect x="1523.8" y="453.7" width="3" height="17.6" fill="rgb(50,50,50)" opacity="0.18"/>
<rect x="1529.5" y="410.7" width="2.4" height="43" fill="rgb(114,114,114)"/>
<rect x="1529.5" y="453.7" width="2.4" height="17.6" fill="rgb(114,114,114)" opacity="0.18"/>
<rect x="1531.7" y="410.7" width="1.5" height="43" fill="rgb(50,50,50)"/>
<rect x="1531.7" y="453.7" width="1.5" height="17.6" fill="rgb(50,50,50)" opacity="0.18"/>
<rect x="1536.8" y="410.7" width="2" height="43" fill="rgb(25,25,25)"/>
<rect x="1536.8" y="453.7" width="2" height="17.6" fill="rgb(25,25,25)" opacity="0.18"/>
<rect x="1547.8" y="410.7" width="1.4" height="43" fill="rgb(102,102,102)"/>
<rect x="1547.8" y="453.7" width="1.4" height="17.6" fill="rgb(102,102,102)" opacity="0.18"/>
<rect x="1551.5" y="410.7" width="2" height="43" fill="rgb(25,25,25)"/>
<rect x="1551.5" y="453.7" width="2" height="17.6" fill="rgb(25,25,25)" opacity="0.18"/>
<rect x="1555.7" y="410.7" width="2" height="43" fill="rgb(25,25,25)"/>
<rect x="1555.7" y="453.7" width="2" height="17.6" fill="rgb(25,25,25)" opacity="0.18"/>
<text transform="translate(1163.96,509.60) scale(0.932,1)" font-size="26.50" letter-spacing="-0.7" fill="#000" stroke="#000" stroke-width="0.3">Rank in Ordered Dataset</text>
<text transform="translate(1592.54,41.00) scale(1.06,1)" font-size="43.50" fill="#000" stroke="#000" stroke-width="0.3">c</text>
<text transform="translate(1627.76,83.50)" font-size="27.20" fill="#000" stroke="#000" stroke-width="0.3">NCI-H295R</text>
<line x1="1630.00" y1="92.20" x2="1767.00" y2="92.20" stroke="#000" stroke-width="2"/>
<defs><clipPath id="vb"><rect x="1694.8" y="113" width="469.2" height="440"/></clipPath></defs>
<g clip-path="url(#vb)">
<line x1="1817.60" y1="113.00" x2="1817.60" y2="553.00" stroke="#dedede" stroke-width="2.2"/>
<line x1="1694.80" y1="534.40" x2="2164.00" y2="534.40" stroke="#dedede" stroke-width="2.0"/>
<line x1="1785.19" y1="113.00" x2="1785.19" y2="553.00" stroke="#a4a4a4" stroke-width="1.8" stroke-dasharray="8.7 8.8" stroke-dashoffset="9.6"/>
<line x1="1850.01" y1="113.00" x2="1850.01" y2="553.00" stroke="#a4a4a4" stroke-width="1.8" stroke-dasharray="8.7 8.8" stroke-dashoffset="9.6"/>
<line x1="1694.80" y1="499.08" x2="2164.00" y2="499.08" stroke="#a4a4a4" stroke-width="1.8" stroke-dasharray="8.7 8.8" stroke-dashoffset="0.5"/>
<path d="M1787,507 L1789,490 Q1799,481 1810,485 L1813,507 Z" fill="#dcdcdc"/>
<path d="M1819,507 L1824,486 Q1832,476 1840,474 Q1847,476 1849,482 L1850,507 Z" fill="#d9d9d9"/>
<path d="M1786,535 L1786,507 Q1798,503 1811.5,505 L1815.5,525 L1819.5,505 Q1835,503 1850,506 L1850,535 Z" fill="#cacaca"/>
<g fill="#c8c8c8">
<circle cx="1841.7" cy="284.6" r="3.4" fill-opacity="0.55"/>
<circle cx="1846.6" cy="319.8" r="3.4" fill-opacity="0.55"/>
<circle cx="1845.0" cy="336.0" r="3.4" fill-opacity="0.55"/>
<circle cx="1838.0" cy="380.4" r="3.4" fill-opacity="0.55"/>
<circle cx="1845.4" cy="376.8" r="3.4" fill-opacity="0.55"/>
<circle cx="1843.0" cy="389.0" r="3.4" fill-opacity="0.55"/>
<circle cx="1836.0" cy="423.0" r="3.4" fill-opacity="0.55"/>
<circle cx="1840.0" cy="431.0" r="3.4" fill-opacity="0.55"/>
<circle cx="1834.0" cy="440.0" r="3.4" fill-opacity="0.55"/>
<circle cx="1842.0" cy="446.0" r="3.4" fill-opacity="0.55"/>
<circle cx="1838.0" cy="455.0" r="3.4" fill-opacity="0.55"/>
<circle cx="1846.0" cy="452.0" r="3.4" fill-opacity="0.55"/>
<circle cx="1835.0" cy="465.0" r="3.4" fill-opacity="0.55"/>
<circle cx="1842.0" cy="470.0" r="3.4" fill-opacity="0.55"/>
<circle cx="1848.0" cy="462.0" r="3.4" fill-opacity="0.55"/>
<circle cx="1830.0" cy="478.0" r="3.4" fill-opacity="0.55"/>
<circle cx="1838.0" cy="484.0" r="3.4" fill-opacity="0.55"/>
<circle cx="1845.0" cy="480.0" r="3.4" fill-opacity="0.55"/>
<circle cx="1826.0" cy="490.0" r="3.4" fill-opacity="0.55"/>
<circle cx="1834.0" cy="495.0" r="3.4" fill-opacity="0.55"/>
<circle cx="1843.0" cy="492.0" r="3.4" fill-opacity="0.55"/>
<circle cx="1849.0" cy="488.0" r="3.4" fill-opacity="0.55"/>
<circle cx="1822.0" cy="499.0" r="3.4" fill-opacity="0.55"/>
<circle cx="1829.0" cy="500.0" r="3.4" fill-opacity="0.55"/>
<circle cx="1837.0" cy="500.0" r="3.4" fill-opacity="0.55"/>
<circle cx="1846.0" cy="499.0" r="3.4" fill-opacity="0.55"/>
<circle cx="1793.0" cy="369.5" r="3.4" fill-opacity="0.55"/>
<circle cx="1790.0" cy="440.0" r="3.4" fill-opacity="0.55"/>
<circle cx="1797.0" cy="443.0" r="3.4" fill-opacity="0.55"/>
<circle cx="1803.0" cy="446.0" r="3.4" fill-opacity="0.55"/>
<circle cx="1795.0" cy="460.0" r="3.4" fill-opacity="0.55"/>
<circle cx="1801.0" cy="468.0" r="3.4" fill-opacity="0.55"/>
<circle cx="1807.0" cy="475.0" r="3.4" fill-opacity="0.55"/>
<circle cx="1790.0" cy="480.0" r="3.4" fill-opacity="0.55"/>
<circle cx="1798.0" cy="488.0" r="3.4" fill-opacity="0.55"/>
<circle cx="1806.0" cy="492.0" r="3.4" fill-opacity="0.55"/>
<circle cx="1812.0" cy="497.0" r="3.4" fill-opacity="0.55"/>
<circle cx="1788.0" cy="497.0" r="3.4" fill-opacity="0.55"/>
<circle cx="1794.0" cy="500.0" r="3.4" fill-opacity="0.55"/>
<circle cx="1802.0" cy="499.0" r="3.4" fill-opacity="0.55"/>
<circle cx="1853.0" cy="510.0" r="3.4" fill-opacity="0.35"/>
<circle cx="1858.0" cy="516.0" r="3.4" fill-opacity="0.35"/>
<circle cx="1857.0" cy="529.0" r="3.4" fill-opacity="0.35"/>
<circle cx="1864.0" cy="524.0" r="3.4" fill-opacity="0.35"/>
<circle cx="1872.0" cy="530.0" r="3.4" fill-opacity="0.35"/>
<circle cx="1853.0" cy="522.0" r="3.4" fill-opacity="0.35"/>
<circle cx="1780.0" cy="512.0" r="3.4" fill-opacity="0.35"/>
<circle cx="1775.0" cy="520.0" r="3.4" fill-opacity="0.35"/>
<circle cx="1782.0" cy="528.0" r="3.4" fill-opacity="0.35"/>
<circle cx="1770.0" cy="530.0" r="3.4" fill-opacity="0.35"/>
<circle cx="1861.0" cy="505.0" r="3.4" fill-opacity="0.35"/>
<circle cx="1800.0" cy="455.0" r="3.4" fill-opacity="0.55"/>
<circle cx="1840.0" cy="410.0" r="3.4" fill-opacity="0.55"/>
<circle cx="1844.0" cy="400.0" r="3.4" fill-opacity="0.55"/>
<circle cx="1832.0" cy="452.0" r="3.4" fill-opacity="0.55"/>
<circle cx="1816.0" cy="500.0" r="3.4" fill-opacity="0.55"/>
<circle cx="1836.0" cy="398.0" r="3.4" fill-opacity="0.55"/>
<circle cx="1842.0" cy="405.0" r="3.4" fill-opacity="0.55"/>
<circle cx="1848.0" cy="418.0" r="3.4" fill-opacity="0.55"/>
<circle cx="1833.0" cy="415.0" r="3.4" fill-opacity="0.55"/>
<circle cx="1839.0" cy="428.0" r="3.4" fill-opacity="0.55"/>
<circle cx="1846.0" cy="436.0" r="3.4" fill-opacity="0.55"/>
<circle cx="1830.0" cy="432.0" r="3.4" fill-opacity="0.55"/>
<circle cx="1837.0" cy="442.0" r="3.4" fill-opacity="0.55"/>
<circle cx="1844.0" cy="458.0" r="3.4" fill-opacity="0.55"/>
<circle cx="1828.0" cy="462.0" r="3.4" fill-opacity="0.55"/>
<circle cx="1833.0" cy="472.0" r="3.4" fill-opacity="0.55"/>
<circle cx="1840.0" cy="466.0" r="3.4" fill-opacity="0.55"/>
<circle cx="1847.0" cy="472.0" r="3.4" fill-opacity="0.55"/>
<circle cx="1826.0" cy="480.0" r="3.4" fill-opacity="0.55"/>
<circle cx="1842.0" cy="490.0" r="3.4" fill-opacity="0.55"/>
<circle cx="1848.0" cy="496.0" r="3.4" fill-opacity="0.55"/>
<circle cx="1795.0" cy="450.0" r="3.4" fill-opacity="0.55"/>
<circle cx="1804.0" cy="458.0" r="3.4" fill-opacity="0.55"/>
<circle cx="1792.0" cy="470.0" r="3.4" fill-opacity="0.55"/>
<circle cx="1799.0" cy="476.0" r="3.4" fill-opacity="0.55"/>
<circle cx="1808.0" cy="482.0" r="3.4" fill-opacity="0.55"/>
<circle cx="1790.0" cy="488.0" r="3.4" fill-opacity="0.55"/>
<circle cx="1796.0" cy="494.0" r="3.4" fill-opacity="0.55"/>
<circle cx="1805.0" cy="500.0" r="3.4" fill-opacity="0.55"/>
<circle cx="1786.0" cy="478.0" r="3.4" fill-opacity="0.55"/>
<circle cx="1811.0" cy="470.0" r="3.4" fill-opacity="0.55"/>
<circle cx="1843.0" cy="350.0" r="3.4" fill-opacity="0.55"/>
<circle cx="1847.0" cy="360.0" r="3.4" fill-opacity="0.55"/>
<circle cx="1838.0" cy="368.0" r="3.4" fill-opacity="0.55"/>
</g>
<line x1="1731.00" y1="471.00" x2="1720.00" y2="488.00" stroke="#b8b8b8" stroke-width="1.2"/>
<line x1="1754.70" y1="434.30" x2="1765.00" y2="455.00" stroke="#b8b8b8" stroke-width="1.2"/>
<line x1="1738.00" y1="361.00" x2="1762.50" y2="403.00" stroke="#b8b8b8" stroke-width="1.2"/>
<line x1="1744.70" y1="396.60" x2="1765.70" y2="451.60" stroke="#b8b8b8" stroke-width="1.2"/>
<line x1="1795.00" y1="325.00" x2="1790.00" y2="400.00" stroke="#b8b8b8" stroke-width="1.2"/>
<line x1="1795.00" y1="352.00" x2="1790.00" y2="374.00" stroke="#b8b8b8" stroke-width="1.2"/>
<line x1="1814.00" y1="425.70" x2="1791.60" y2="451.60" stroke="#b8b8b8" stroke-width="1.2"/>
<line x1="1866.00" y1="414.40" x2="1807.80" y2="461.30" stroke="#b8b8b8" stroke-width="1.2"/>
<line x1="1875.20" y1="489.40" x2="2008.00" y2="453.60" stroke="#b8b8b8" stroke-width="1.2"/>
<line x1="1862.00" y1="480.00" x2="1958.00" y2="417.00" stroke="#b8b8b8" stroke-width="1.2"/>
<line x1="1916.00" y1="457.00" x2="1862.00" y2="484.00" stroke="#b8b8b8" stroke-width="1.2"/>
<line x1="1879.40" y1="494.60" x2="1956.00" y2="494.60" stroke="#b8b8b8" stroke-width="1.2"/>
<line x1="1870.00" y1="497.00" x2="2051.40" y2="530.50" stroke="#b8b8b8" stroke-width="1.2"/>
<line x1="1868.00" y1="500.00" x2="1952.00" y2="535.60" stroke="#b8b8b8" stroke-width="1.2"/>
<line x1="1860.00" y1="500.00" x2="1877.30" y2="512.50" stroke="#b8b8b8" stroke-width="1.2"/>
<line x1="1790.00" y1="470.00" x2="1780.00" y2="480.00" stroke="#b8b8b8" stroke-width="1.2"/>
<circle cx="1763.00" cy="405.90" r="3.6" fill="#5f7fae" fill-opacity="0.75" stroke="#3f5f90" stroke-opacity="0.5" stroke-width="0.8"/>
<circle cx="1714.90" cy="495.40" r="3.6" fill="#5f7fae" fill-opacity="0.75" stroke="#3f5f90" stroke-opacity="0.5" stroke-width="0.8"/>
<circle cx="1764.80" cy="494.10" r="3.6" fill="#5f7fae" fill-opacity="0.75" stroke="#3f5f90" stroke-opacity="0.5" stroke-width="0.8"/>
<circle cx="1774.50" cy="494.80" r="3.6" fill="#5f7fae" fill-opacity="0.75" stroke="#3f5f90" stroke-opacity="0.5" stroke-width="0.8"/>
<circle cx="1779.70" cy="493.50" r="3.6" fill="#5f7fae" fill-opacity="0.75" stroke="#3f5f90" stroke-opacity="0.5" stroke-width="0.8"/>
<circle cx="1773.80" cy="479.20" r="3.6" fill="#5f7fae" fill-opacity="0.75" stroke="#3f5f90" stroke-opacity="0.5" stroke-width="0.8"/>
<circle cx="1777.70" cy="479.00" r="3.6" fill="#5f7fae" fill-opacity="0.75" stroke="#3f5f90" stroke-opacity="0.5" stroke-width="0.8"/>
<circle cx="1783.50" cy="455.90" r="3.6" fill="#5f7fae" fill-opacity="0.75" stroke="#3f5f90" stroke-opacity="0.5" stroke-width="0.8"/>
<circle cx="1783.50" cy="460.00" r="3.6" fill="#5f7fae" fill-opacity="0.75" stroke="#3f5f90" stroke-opacity="0.5" stroke-width="0.8"/>
<circle cx="1863.30" cy="325.00" r="3.6" fill="#d4566d" fill-opacity="0.7" stroke="#b83a52" stroke-opacity="0.35" stroke-width="0.8"/>
<circle cx="1876.60" cy="389.70" r="3.6" fill="#d4566d" fill-opacity="0.7" stroke="#b83a52" stroke-opacity="0.35" stroke-width="0.8"/>
<circle cx="2144.30" cy="493.00" r="3.6" fill="#d4566d" fill-opacity="0.7" stroke="#b83a52" stroke-opacity="0.35" stroke-width="0.8"/>
<circle cx="1856.90" cy="480.30" r="3.6" fill="#d4566d" fill-opacity="0.7" stroke="#b83a52" stroke-opacity="0.35" stroke-width="0.8"/>
<circle cx="1855.20" cy="493.60" r="3.6" fill="#d4566d" fill-opacity="0.7" stroke="#b83a52" stroke-opacity="0.35" stroke-width="0.8"/>
<circle cx="1861.50" cy="493.60" r="3.6" fill="#d4566d" fill-opacity="0.7" stroke="#b83a52" stroke-opacity="0.35" stroke-width="0.8"/>
<circle cx="1867.80" cy="493.60" r="3.6" fill="#d4566d" fill-opacity="0.7" stroke="#b83a52" stroke-opacity="0.35" stroke-width="0.8"/>
</g>
<rect x="1693.8" y="112" width="471.2" height="442" fill="none" stroke="#000" stroke-width="2"/>
<line x1="1685.00" y1="534.40" x2="1693.80" y2="534.40" stroke="#000" stroke-width="2"/>
<text transform="translate(1671.86,542.20)" font-size="22.50" fill="#000" stroke="#000" stroke-width="0.3">0</text>
<line x1="1685.00" y1="398.65" x2="1693.80" y2="398.65" stroke="#000" stroke-width="2"/>
<text transform="translate(1671.91,406.45)" font-size="22.50" fill="#000" stroke="#000" stroke-width="0.3">5</text>
<line x1="1685.00" y1="262.90" x2="1693.80" y2="262.90" stroke="#000" stroke-width="2"/>
<text transform="translate(1659.37,270.70)" font-size="22.50" fill="#000" stroke="#000" stroke-width="0.3">10</text>
<line x1="1685.00" y1="127.15" x2="1693.80" y2="127.15" stroke="#000" stroke-width="2"/>
<text transform="translate(1659.42,134.95)" font-size="22.50" fill="#000" stroke="#000" stroke-width="0.3">15</text>
<line x1="1706.80" y1="554.00" x2="1706.80" y2="561.00" stroke="#000" stroke-width="2"/>
<text transform="translate(1695.77,580.70)" font-size="25.00" fill="#000" stroke="#000" stroke-width="0.3">-2</text>
<line x1="1817.60" y1="554.00" x2="1817.60" y2="561.00" stroke="#000" stroke-width="2"/>
<text transform="translate(1810.63,580.70)" font-size="25.00" fill="#000" stroke="#000" stroke-width="0.3">0</text>
<line x1="1928.40" y1="554.00" x2="1928.40" y2="561.00" stroke="#000" stroke-width="2"/>
<text transform="translate(1921.46,580.70)" font-size="25.00" fill="#000" stroke="#000" stroke-width="0.3">2</text>
<line x1="2039.20" y1="554.00" x2="2039.20" y2="561.00" stroke="#000" stroke-width="2"/>
<text transform="translate(2032.32,580.70)" font-size="25.00" fill="#000" stroke="#000" stroke-width="0.3">4</text>
<line x1="2150.00" y1="554.00" x2="2150.00" y2="561.00" stroke="#000" stroke-width="2"/>
<text transform="translate(2142.97,580.70)" font-size="25.00" fill="#000" stroke="#000" stroke-width="0.3">6</text>
<text stroke="#000" stroke-width="0.3" x="1866.6" y="607.7" font-size="26">Log<tspan font-size="14" dy="9.2">2</tspan><tspan dy="-9.2"> FC</tspan></text>
<text stroke="#000" stroke-width="0.3" transform="translate(1649.2,416) rotate(-90)" font-size="26.3">-Log</text>
<text stroke="#000" stroke-width="0.3" transform="translate(1658.6,362.36) rotate(-90)" font-size="15.5">10</text>
<text stroke="#000" stroke-width="0.3" transform="translate(1649.2,339.84) rotate(-90)" font-size="26.3">(<tspan font-style="italic">P</tspan>-adj)</text>
<circle cx="1985.80" cy="129.80" r="3.2" fill="#d76a7c"/>
<text transform="translate(1995.10,137.20)" font-size="24.50" fill="#000" stroke="#000" stroke-width="0.3">Upregulated</text>
<circle cx="1985.80" cy="155.70" r="3.2" fill="#c8c8c8"/>
<text transform="translate(1995.10,163.10)" font-size="24.50" fill="#000" stroke="#000" stroke-width="0.3">Unchanged</text>
<circle cx="1985.80" cy="182.50" r="3.2" fill="#5f83bd"/>
<text transform="translate(1994.98,190.00)" font-size="24.50" fill="#000" stroke="#000" stroke-width="0.3">Downregulated</text>
<text transform="translate(1849.88,310.40)" font-size="25.87" font-style="italic" fill="#b8324f" stroke="#b8324f" stroke-width="0.3">COX6B2</text>
<text transform="translate(1852.22,377.70)" font-size="25.92" font-style="italic" fill="#b8324f" stroke="#b8324f" stroke-width="0.3">PLA2G3</text>
<text transform="translate(1962.21,414.00)" font-size="26.17" font-style="italic" fill="#b8324f" stroke="#b8324f" stroke-width="0.3">PSG9</text>
<text transform="translate(1882.21,448.60)" font-size="26.36" font-style="italic" fill="#b8324f" stroke="#b8324f" stroke-width="0.3">MYO7B</text>
<text transform="translate(2021.09,451.00)" font-size="25.97" font-style="italic" fill="#b8324f" stroke="#b8324f" stroke-width="0.3">SNAI1</text>
<text transform="translate(2092.23,484.00)" font-size="25.52" font-style="italic" fill="#b8324f" stroke="#b8324f" stroke-width="0.3">BAG6</text>
<text transform="translate(1964.28,504.00)" font-size="26.01" font-style="italic" fill="#b8324f" stroke="#b8324f" stroke-width="0.3">SLC27A3</text>
<text transform="translate(1867.29,535.30)" font-size="26.00" font-style="italic" fill="#b8324f" stroke="#b8324f" stroke-width="0.3">SDK1</text>
<text transform="translate(1949.77,547.00)" font-size="26.39" font-style="italic" fill="#b8324f" stroke="#b8324f" stroke-width="0.3">SLC35F3</text>
<text transform="translate(2068.70,539.00)" font-size="26.06" font-style="italic" fill="#b8324f" stroke="#b8324f" stroke-width="0.3">ATP5SL</text>
<text transform="translate(1752.32,321.50)" font-size="26.31" font-style="italic" fill="#335e98" stroke="#335e98" stroke-width="0.3">ARMC4</text>
<text transform="translate(1791.87,350.60)" font-size="25.91" font-style="italic" fill="#335e98" stroke="#335e98" stroke-width="0.3">CCPG1</text>
<text transform="translate(1698.52,358.70)" font-size="26.03" font-style="italic" fill="#335e98" stroke="#335e98" stroke-width="0.3">MCF2</text>
<text transform="translate(1705.09,394.30)" font-size="26.44" font-style="italic" fill="#335e98" stroke="#335e98" stroke-width="0.3">WDR78</text>
<text transform="translate(1798.92,414.40)" font-size="26.02" font-style="italic" fill="#335e98" stroke="#335e98" stroke-width="0.3">HRK</text>
<text transform="translate(1747.80,433.20)" font-size="26.76" font-style="italic" fill="#335e98" stroke="#335e98" stroke-width="0.3">FGG</text>
<text transform="translate(1706.61,467.80)" font-size="26.25" font-style="italic" fill="#335e98" stroke="#335e98" stroke-width="0.3">RFC2</text>
<text transform="translate(1871.59,417.20)" font-size="26.89" font-style="italic" fill="#335e98" stroke="#335e98" stroke-width="0.3">BCAT1</text>
<text transform="translate(1789.22,477.70)" font-size="26.13" font-style="italic" fill="#335e98" stroke="#335e98" stroke-width="0.3">RP3−332B22.1</text>
<text transform="translate(1786.92,503.00)" font-size="25.86" font-style="italic" fill="#335e98" stroke="#335e98" stroke-width="0.3">BEST1</text>
<text transform="translate(1699.09,526.80)" font-size="25.85" font-style="italic" fill="#335e98" stroke="#335e98" stroke-width="0.3">AGAP6</text>
<text transform="translate(1743.80,547.10)" font-size="26.52" font-style="italic" fill="#335e98" stroke="#335e98" stroke-width="0.3">DMGDH</text>
</svg></body></html>
